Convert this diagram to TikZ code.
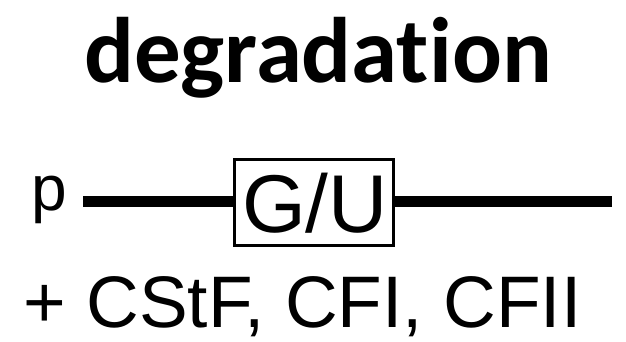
\documentclass[tikz,border=0pt]{standalone}
\usepackage{fontspec}
\setmainfont{Liberation Sans}
\newfontfamily\titlefont[Ligatures={NoCommon,NoRequired,NoContextual}]{Carlito}
\begin{document}
\begin{tikzpicture}[x=1pt,y=1pt,
  titletext/.style={inner sep=0pt, anchor=base, font=\titlefont\bfseries\fontsize{93}{93}\selectfont},
  labeltext/.style={inner sep=0pt, anchor=base},
  genebox/.style={draw, line width=3pt, minimum width=159pt, minimum height=86pt, inner sep=0pt},
  strand/.style={line width=11pt}]
\useasboundingbox (0,0) rectangle (626,-342);
\node[titletext] (title) at (318,-83) {degradat\kern0pt ion};
\node[labeltext, font=\fontsize{64}{64}\selectfont] (p) at (49,-210) {p};
\node[genebox] (gu) at (314,-202.5) {};
\node[labeltext, font=\fontsize{82}{82}\selectfont] (gutext) at (315,-232) {G/U};
\coordinate (lstart) at (83,-201);
\coordinate (rend) at (612,-201);
\draw[strand] (lstart) -- (lstart -| gu.west);
\draw[strand] (rend -| gu.east) -- (rend);
\node[labeltext, font=\fontsize{73}{73}\selectfont] (factors) at (302.5,-327) {+ CStF, CFI, CFII};
\end{tikzpicture}
\end{document}
